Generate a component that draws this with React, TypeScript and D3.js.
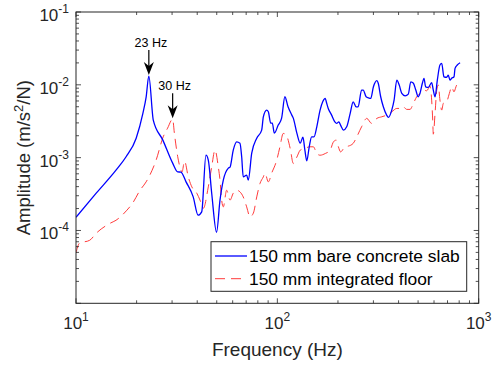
import React from 'react';
import * as d3 from 'd3';

// [frequency (Hz), amplitude (m/s^2/N)]
const bareSlab: [number, number][] = [
  [10, 1.52e-4], [12.6, 3.25e-4], [15.8, 6.73e-4], [17.7, 1.02e-3], [19.9, 1.85e-3], [21.5, 4.09e-3],
  [22.3, 6.79e-3], [23.0, 1.32e-2], [24.2, 3.28e-3], [27.0, 1.74e-3], [30.2, 8.4e-4], [32.0, 6.38e-4],
  [33.2, 6.33e-4], [35.2, 4.65e-4], [38.2, 2.89e-4], [40.4, 1.62e-4], [42.1, 1.8e-4], [44.2, 1.08e-3],
  [45.4, 9.25e-4], [47.2, 3.25e-4], [49.9, 9.46e-5], [51.9, 2.61e-4], [53.9, 4.91e-4], [57.1, 7.18e-4],
  [58.2, 7.4e-4], [60.4, 1.27e-3], [62.8, 1.65e-3], [65.2, 1.58e-3], [66.5, 1.03e-3], [67.7, 5.45e-4],
  [70.4, 5.75e-4], [71.7, 4.91e-4], [74.6, 1.15e-3], [79.0, 1.85e-3], [83.6, 2.39e-3], [85.2, 3.64e-3],
  [88.5, 4.5e-3], [90.2, 4.26e-3], [92.7, 2.98e-3], [94.4, 2.98e-3], [96.6, 2.17e-3], [101, 2.8e-3],
  [105, 3.49e-3], [109, 6.86e-3], [113, 4.99e-3], [118, 3.84e-3], [120, 3.49e-3], [125, 2.17e-3],
  [130, 1.58e-3], [134, 1.91e-3], [137, 1.27e-3], [140, 9.04e-4], [144, 1.41e-3], [148, 1.93e-3],
  [152, 1.93e-3], [157, 2.65e-3], [163, 4.5e-3], [168, 5.85e-3], [173, 6.51e-3], [175, 5.85e-3],
  [179, 4.74e-3], [186, 3.84e-3], [193, 3.1e-3], [197, 2.95e-3], [202, 3.1e-3], [206, 2.8e-3],
  [213, 2.39e-3], [221, 2.65e-3], [230, 4.06e-3], [238, 5.85e-3], [246, 4.99e-3], [252, 4.99e-3],
  [262, 8.47e-3], [267, 8.47e-3], [276, 6.86e-3], [283, 6.64e-3], [291, 6.51e-3], [300, 9.4e-3],
  [312, 1.14e-2], [317, 1.05e-2], [326, 6.86e-3], [336, 4.99e-3], [349, 3.84e-3], [356, 3.57e-3],
  [370, 4.5e-3], [380, 6.17e-3], [392, 1.16e-2], [403, 9.92e-3], [415, 7.63e-3], [431, 7.07e-3],
  [447, 7.46e-3], [460, 1.1e-2], [474, 1.05e-2], [487, 8.47e-3], [501, 6.86e-3], [511, 7.63e-3],
  [525, 1.05e-2], [535, 1.23e-2], [545, 9.4e-3], [562, 9.23e-3], [584, 1.07e-2], [595, 8.47e-3],
  [607, 6.86e-3], [623, 1.16e-2], [642, 1.87e-2], [655, 1.97e-2], [672, 1.29e-2], [693, 1.27e-2],
  [706, 1.36e-2], [720, 1.16e-2], [734, 1.23e-2], [754, 1.29e-2], [763, 1.68e-2], [783, 1.87e-2],
  [808, 2.01e-2],
];

const integratedFloor: [number, number][] = [
  [10, 4.91e-5], [10.4, 6.68e-5], [11.7, 7.34e-5], [12.6, 9.16e-5], [14.8, 1.26e-4], [15.8, 1.38e-4],
  [17.9, 1.9e-4], [19.1, 2.37e-4], [20.8, 3.57e-4], [22.3, 4.65e-4], [25.0, 9.25e-4], [27.1, 1.93e-3],
  [28.5, 2.54e-3], [30.2, 3.38e-3], [30.8, 2.17e-3], [32.0, 1.03e-3], [33.2, 6.73e-4], [33.6, 6.33e-4],
  [34.6, 8.95e-4], [36.1, 5.45e-4], [37.6, 3.97e-4], [39.8, 3.25e-4], [41.3, 2.61e-4], [42.9, 2.02e-4],
  [45.4, 3.97e-4], [47.2, 7.47e-4], [49.0, 1.27e-3], [50.9, 7.47e-4], [51.9, 4.91e-4], [52.9, 2.61e-4],
  [53.9, 2.11e-4], [56.0, 3.57e-4], [58.2, 2.61e-4], [60.4, 3.25e-4], [62.8, 3.57e-4], [65.2, 3.39e-4],
  [67.7, 2.89e-4], [70.4, 2.11e-4], [73.1, 1.54e-4], [76.0, 1.73e-4], [79.0, 2.89e-4], [82.0, 4.42e-4],
  [85.2, 5.45e-4], [86.8, 6.12e-4], [90.2, 4.65e-4], [93.7, 6.12e-4], [99.3, 9.25e-4], [103, 1.41e-3],
  [107, 2.15e-3], [111, 2.01e-3], [116, 1.31e-3], [120, 8.32e-4], [125, 1.02e-3], [130, 1.27e-3],
  [137, 1.34e-3], [145, 1.41e-3], [151, 1.41e-3], [157, 1.14e-3], [163, 1.08e-3], [173, 1.14e-3],
  [183, 1.27e-3], [190, 1.65e-3], [196, 1.74e-3], [201, 1.41e-3], [206, 1.2e-3], [217, 1.41e-3],
  [225, 1.44e-3], [238, 1.57e-3], [248, 1.93e-3], [262, 2.65e-3], [278, 3.46e-3], [294, 2.95e-3],
  [312, 3.46e-3], [330, 3.64e-3], [349, 3.84e-3], [370, 4.26e-3], [392, 4.74e-3], [407, 4.74e-3],
  [422, 4.99e-3], [439, 4.6e-3], [456, 4.6e-3], [474, 5.56e-3], [492, 6.86e-3], [511, 7.63e-3],
  [531, 8.47e-3], [552, 8.28e-3], [573, 9.62e-3], [584, 6.17e-3], [591, 3.28e-3], [595, 2.1e-3],
  [607, 4.06e-3], [619, 8.47e-3], [630, 9.92e-3], [642, 6.17e-3], [655, 4.5e-3], [667, 5.56e-3],
  [693, 5.85e-3], [715, 7.63e-3], [734, 9.4e-3], [754, 8.02e-3], [771, 9.4e-3], [783, 1.05e-2],
];

const xTickExps = [1, 2, 3];
const yTickExps = [-4, -3, -2, -1];
const peaks = [
  { f: 23, amp: 1.32e-2, label: '23 Hz' },
  { f: 30.2, amp: 3.38e-3, label: '30 Hz' },
];
const legendLabels = ['150 mm bare concrete slab', '150 mm integrated floor'];

const W = 502, H = 367;
const L = 76, R = 478.7, T = 12, B = 303.3;
const font = 'Liberation Sans, Arial, Helvetica, sans-serif';
const ink = '#262626';

export default function App() {
  const x = d3.scaleLog().domain([10, 1000]).range([L, R]);
  const y = d3.scaleLog().domain([1e-5, 1e-1]).range([B, T]);
  const line = d3.line<[number, number]>().x(d => x(d[0])).y(d => y(d[1])).curve(d3.curveMonotoneX);

  const minorX: number[] = [];
  for (let e = 1; e < 3; e++) for (let m = 2; m <= 9; m++) minorX.push(m * 10 ** e);
  const minorY: number[] = [];
  for (let e = -5; e < -1; e++) for (let m = 2; m <= 9; m++) minorY.push(m * 10 ** e);
  const majorX = [10, 100, 1000];
  const majorY = [1e-5, 1e-4, 1e-3, 1e-2, 1e-1];

  const lx = 211, ly = 241.7, lw = 255.7, lh = 49.6;

  return (
    <div style={{ position: 'fixed', left: 0, top: 0 }}>
      <svg width={W} height={H} style={{ display: 'block', background: '#fff' }} fontFamily={font}>
        <rect width={W} height={H} fill="#fff" />
        <defs>
          <clipPath id="plot"><rect x={L} y={T} width={R - L} height={B - T} /></clipPath>
        </defs>

        <g clipPath="url(#plot)" fill="none">
          <path d={line(integratedFloor)!} stroke="#ff3b3b" strokeWidth={1} strokeDasharray="10,6" />
          <path d={line(bareSlab)!} stroke="#0000ff" strokeWidth={1.3} strokeLinejoin="round" />
        </g>

        {/* ticks, inward on all sides */}
        <g stroke={ink} strokeWidth={0.8}>
          {majorX.map(v => (
            <g key={'mx' + v}>
              <line x1={x(v)} x2={x(v)} y1={B} y2={B - 5} />
              <line x1={x(v)} x2={x(v)} y1={T} y2={T + 5} />
            </g>
          ))}
          {minorX.map(v => (
            <g key={'nx' + v}>
              <line x1={x(v)} x2={x(v)} y1={B} y2={B - 3} />
              <line x1={x(v)} x2={x(v)} y1={T} y2={T + 3} />
            </g>
          ))}
          {majorY.map(v => (
            <g key={'my' + v}>
              <line x1={L} x2={L + 5} y1={y(v)} y2={y(v)} />
              <line x1={R} x2={R - 5} y1={y(v)} y2={y(v)} />
            </g>
          ))}
          {minorY.map(v => (
            <g key={'ny' + v}>
              <line x1={L} x2={L + 3} y1={y(v)} y2={y(v)} />
              <line x1={R} x2={R - 3} y1={y(v)} y2={y(v)} />
            </g>
          ))}
        </g>
        <rect x={L} y={T} width={R - L} height={B - T} fill="none" stroke={ink} strokeWidth={1} />

        {/* tick labels */}
        <g fill={ink} fontSize={17}>
          {xTickExps.map(e => (
            <text key={'xl' + e} x={x(10 ** e)} y={B + 26} textAnchor="middle">
              10<tspan dy={-8} fontSize={12}>{e}</tspan>
            </text>
          ))}
          {yTickExps.map(e => (
            <text key={'yl' + e} x={69} y={y(10 ** e) + 9} textAnchor="end">
              10<tspan dy={-8} fontSize={12}>{e}</tspan>
            </text>
          ))}
        </g>

        {/* axis titles */}
        <text x={(L + R) / 2} y={356} textAnchor="middle" fontSize={19} fill={ink}>Frequency (Hz)</text>
        <text transform={`translate(30,${(T + B) / 2}) rotate(-90)`} textAnchor="middle" fontSize={18.5} fill={ink}>
          Amplitude (m/s<tspan dy={-7} fontSize={13}>2</tspan><tspan dy={7}>/N)</tspan>
        </text>

        {/* peak annotations */}
        {peaks.map(p => {
          const px = x(p.f), tip = y(p.amp) - 1;
          return (
            <g key={p.label}>
              <line x1={px} x2={px} y1={tip - 25} y2={tip - 8} stroke="#000" strokeWidth={1.2} />
              <path d={`M${px},${tip} L${px - 5},${tip - 13} L${px},${tip - 9} L${px + 5},${tip - 13} Z`} fill="#000" />
              <text x={px + 2} y={tip - 28} textAnchor="middle" fontSize={12.5} fill="#000">{p.label}</text>
            </g>
          );
        })}

        {/* legend */}
        <rect x={lx} y={ly} width={lw} height={lh} fill="#fff" stroke={ink} strokeWidth={1} />
        <line x1={lx + 4} x2={lx + 36} y1={ly + 14.3} y2={ly + 14.3} stroke="#0000ff" strokeWidth={1.3} />
        <line x1={lx + 4} x2={lx + 36} y1={ly + 37} y2={ly + 37} stroke="#ff3b3b" strokeWidth={1} strokeDasharray="10,6" />
        <text x={lx + 38} y={ly + 20.3} fontSize={17.4} fill="#000">{legendLabels[0]}</text>
        <text x={lx + 38} y={ly + 43} fontSize={17.4} fill="#000">{legendLabels[1]}</text>
      </svg>
    </div>
  );
}
